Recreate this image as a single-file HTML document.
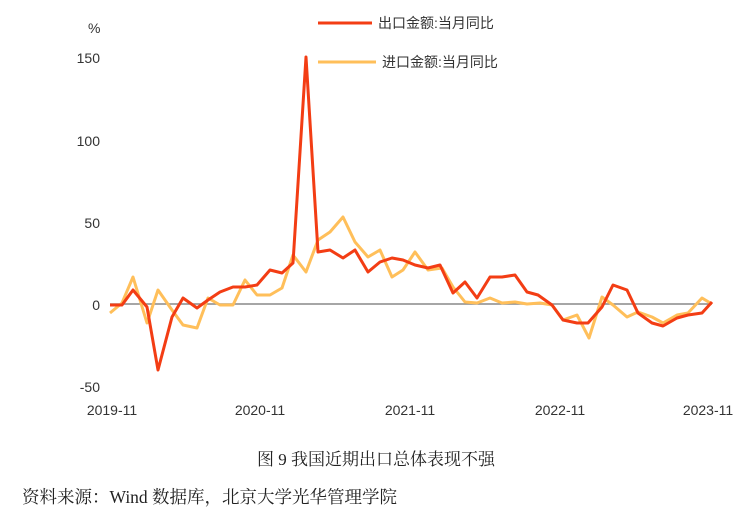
<!DOCTYPE html>
<html><head><meta charset="utf-8"><style>
body{margin:0;background:#fff;width:752px;height:523px;overflow:hidden}
svg{display:block}
</style></head><body>
<svg width="752" height="523" xmlns="http://www.w3.org/2000/svg">
<g font-family="Liberation Sans, sans-serif" font-size="14" fill="#333">
<text x="88" y="33">%</text>
<text x="100" y="63" text-anchor="end">150</text>
<text x="100" y="146" text-anchor="end">100</text>
<text x="100" y="228" text-anchor="end">50</text>
<text x="100" y="310" text-anchor="end">0</text>
<text x="100" y="392" text-anchor="end">-50</text>
<text x="112" y="415" text-anchor="middle">2019-11</text>
<text x="260" y="415" text-anchor="middle">2020-11</text>
<text x="410" y="415" text-anchor="middle">2021-11</text>
<text x="560" y="415" text-anchor="middle">2022-11</text>
<text x="708" y="415" text-anchor="middle">2023-11</text>
</g>
<line x1="110" y1="304" x2="712" y2="304" stroke="#888" stroke-width="1.5"/>
<polyline fill="none" stroke="#ffbf5a" stroke-width="3" stroke-linejoin="round" points="110,313 122,303 133,277 147,323 158,290 172,310 183,325 197,328 208,298 220,305 233,305 245,280 257,295 270,295 282,288 293,255 306,272 318,240 330,232 343,217 355,242 368,257 380,250 392,277 403,270 415,252 428,270 442,268 453,287 465,302 477,303 490,298 502,303 515,302 527,304 540,303 552,305 563,320 577,315 589,338 602,297 613,305 627,317 638,312 652,317 663,323 677,315 688,313 702,298 712,304"/>
<polyline fill="none" stroke="#f33d14" stroke-width="3" stroke-linejoin="round" points="110,305 122,305 133,290 147,307 158,370 172,317 183,298 197,308 208,300 220,292 233,287 245,287 257,285 270,270 282,273 293,263 306,57 318,252 330,250 343,258 355,250 368,272 380,262 392,258 403,260 415,265 428,268 440,265 453,293 465,282 477,298 490,277 502,277 515,275 527,292 538,295 552,305 563,320 577,323 588,323 602,307 613,285 627,290 638,313 652,323 663,326 677,318 688,315 702,313 712,302"/>
<line x1="318" y1="23" x2="372" y2="23" stroke="#f33d14" stroke-width="3"/>
<line x1="318" y1="62" x2="376" y2="62" stroke="#ffbf5a" stroke-width="3"/>
<g font-family="Liberation Sans, Noto Sans CJK SC, sans-serif" font-size="14" fill="#333">
<text x="378" y="28">出口金额:当月同比</text>
<text x="382" y="67">进口金额:当月同比</text>
</g>
<g font-family="Liberation Serif, Noto Serif CJK SC, serif" fill="#222">
<text x="376" y="465" text-anchor="middle" font-size="17">图 9 我国近期出口总体表现不强</text>
<text x="22" y="503" font-size="17.5">资料来源：Wind 数据库，北京大学光华管理学院</text>
</g>
</svg>
</body></html>
